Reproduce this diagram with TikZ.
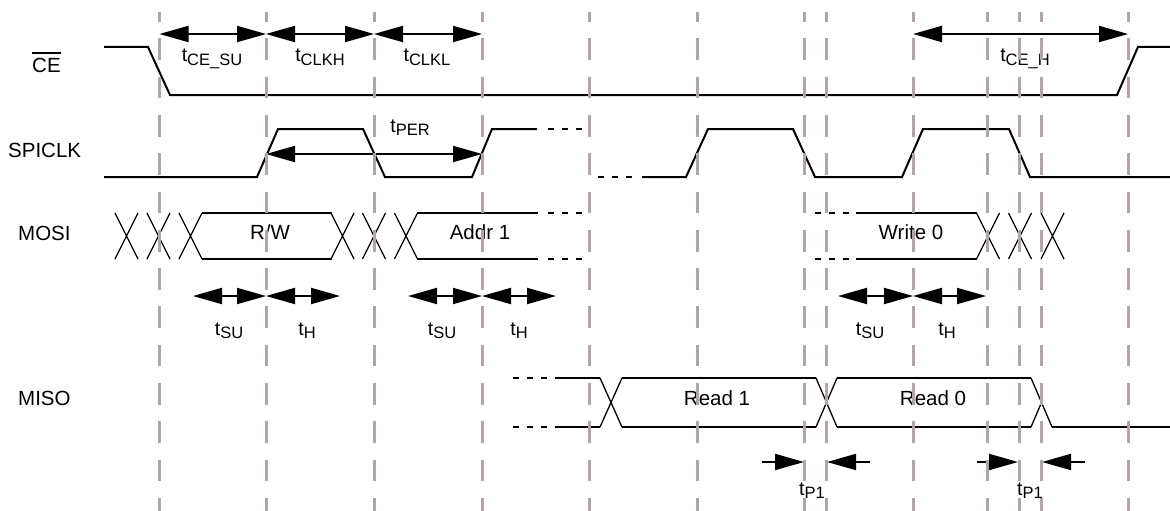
\documentclass[tikz,border=0pt]{standalone}
\usepackage{fontspec}
\setmainfont{Liberation Sans}
\usetikzlibrary{arrows.meta}
\definecolor{guidegray}{RGB}{178,166,163}
\newcommand{\tsub}[1]{{\fontsize{19.5}{19.5}\selectfont t}\raisebox{-3.5pt}{\fontsize{16.5}{16.5}\selectfont #1}}
\newcommand{\ovl}[1]{\setbox0\hbox{#1}\rlap{\rule[\dimexpr\ht0+5pt\relax]{\wd0}{1.3pt}}\box0}
\tikzset{
  sig/.style={line width=2pt},
  xline/.style={line width=1.3pt},
  dotsig/.style={line width=2pt, dash pattern=on 6pt off 8pt},
  guide/.style={draw=guidegray, line width=3pt, dash pattern=on 21.7pt off 16.6pt, dash phase=12pt},
  tm/.style={line width=2pt, arrows={Triangle[length=29pt,width=16pt]-Triangle[length=29pt,width=16pt]}},
  tmr/.style={line width=2pt, arrows={-Triangle[length=29pt,width=16pt]}},
  lbl/.style={inner sep=0pt, anchor=base, font=\fontsize{20.5}{20.5}\selectfont},
  sname/.style={inner sep=0pt, anchor=base west, font=\fontsize{20.5}{20.5}\selectfont},
}
\begin{document}
\begin{tikzpicture}[x=1pt,y=-1pt]
\useasboundingbox (0,0) rectangle (1170,511);

% signal names
\node[sname] (nce) at (32,73) {\ovl{CE}};
\node[sname] (nclk) at (8,157) {SPICLK};
\node[sname] (nmosi) at (18,240) {MOSI};
\node[sname] (nmiso) at (18,405.5) {MISO};

% CE
\draw[sig] (104,47) -- (148,47) -- (170,95) -- (1117,95) -- (1138,47) -- (1170,47);

% SPICLK
\draw[sig] (104,177) -- (257,177) -- (278,129) -- (363,129) -- (385,177) -- (472,177) -- (492,129) -- (537,129);
\draw[dotsig] (548,129) -- (583,129);
\draw[dotsig] (598,177) -- (636,177);
\draw[sig] (642,177) -- (686,177) -- (708,129) -- (793,129) -- (815,177) -- (902,177) -- (923,129) -- (1009,129) -- (1030,177) -- (1170,177);

% MOSI
\foreach \c in {126.5,158.5,190.5,342.5,374,406,988,1020,1052.5}
  \draw[xline] (\c-11.5,213) -- (\c+11.5,259) (\c-11.5,259) -- (\c+11.5,213);
\draw[sig] (202,213) -- (332,213) (202,259) -- (332,259);
\draw[sig] (417,213) -- (538,213) (417,259) -- (538,259);
\draw[dotsig] (548,213) -- (583,213) (548,259) -- (583,259);
\draw[dotsig] (815,213) -- (850,213) (815,259) -- (850,259);
\draw[sig] (856,213) -- (976.5,213) (856,259) -- (976.5,259);
\node[lbl] (trw) at (270,239) {R/W};
\node[lbl] (taddr) at (480,239) {Addr 1};
\node[lbl] (twr) at (911,239) {Write 0};

% MISO
\draw[dotsig] (513,378) -- (549,378) (513,427) -- (549,427);
\draw[sig] (555,378) -- (600,378) (555,427) -- (600,427);
\draw[xline] (600,378) -- (622,427) (600,427) -- (622,378);
\draw[sig] (622,378) -- (816,378) (622,427) -- (816,427);
\draw[xline] (816,378) -- (837,427) (816,427) -- (837,378);
\draw[sig] (837,378) -- (1031,378) (837,427) -- (1031,427);
\draw[xline] (1031,378) -- (1052,427) (1031,427) -- (1041.5,402.5);
\draw[sig] (1052,427) -- (1170,427);
\node[lbl] (tr1) at (717,405) {Read 1};
\node[lbl] (tr0) at (933,405) {Read 0};

% timing arrows
\coordinate (g1) at (159.5,34);
\coordinate (g2) at (266,34);
\coordinate (g3) at (374,34);
\coordinate (g4) at (482,34);
\coordinate (g9) at (913,34);
\coordinate (g13) at (1128,34);
\draw[tm] (g1) -- (g2);
\draw[tm] (g2) -- (g3);
\draw[tm] (g3) -- (g4);
\draw[tm] (g9) -- (g13);
\node[lbl] (lcesu) at (212,62) {\tsub{CE\_SU}};
\node[lbl] (lclkh) at (320,62) {\tsub{CLKH}};
\node[lbl] (lclkl) at (427,62) {\tsub{CLKL}};
\node[lbl] (lceh) at (1025,62) {\tsub{CE\_H}};

\coordinate (p1) at (266,154);
\coordinate (p2) at (482,154);
\draw[tm] (p1) -- (p2);
\node[lbl] (lper) at (410,132) {\tsub{PER}};

\coordinate (s1a) at (193,296);
\coordinate (s1b) at (266,296);
\coordinate (s1c) at (340,296);
\coordinate (s2a) at (408,296);
\coordinate (s2b) at (482,296);
\coordinate (s2c) at (556,296);
\coordinate (s3a) at (838,296);
\coordinate (s3b) at (913,296);
\coordinate (s3c) at (986,296);
\draw[tm] (s1a) -- (s1b);
\draw[tm] (s1b) -- (s1c);
\draw[tm] (s2a) -- (s2b);
\draw[tm] (s2b) -- (s2c);
\draw[tm] (s3a) -- (s3b);
\draw[tm] (s3b) -- (s3c);
\node[lbl] (lsu1) at (229,335) {\tsub{SU}};
\node[lbl] (lh1) at (307,335) {\tsub{H}};
\node[lbl] (lsu2) at (442,335) {\tsub{SU}};
\node[lbl] (lh2) at (519,335) {\tsub{H}};
\node[lbl] (lsu3) at (870,335) {\tsub{SU}};
\node[lbl] (lh3) at (947,335) {\tsub{H}};

\coordinate (q1s) at (762,462);
\coordinate (q1a) at (804,462);
\coordinate (q1b) at (827,462);
\coordinate (q1e) at (870,462);
\coordinate (q2s) at (977,462);
\coordinate (q2a) at (1018,462);
\coordinate (q2b) at (1042,462);
\coordinate (q2e) at (1085,462);
\draw[tmr] (q1s) -- (q1a);
\draw[tmr] (q1e) -- (q1b);
\draw[tmr] (q2s) -- (q2a);
\draw[tmr] (q2e) -- (q2b);
\node[lbl] (lp1) at (812,495) {\tsub{P1}};
\node[lbl] (lp2) at (1030,495) {\tsub{P1}};

% guide lines
\foreach \gx in {159.5,266,374,482,589,697,804,826,913,987,1019,1041,1128}
  \draw[guide] (\gx,12) -- (\gx,511);
\end{tikzpicture}
\end{document}
